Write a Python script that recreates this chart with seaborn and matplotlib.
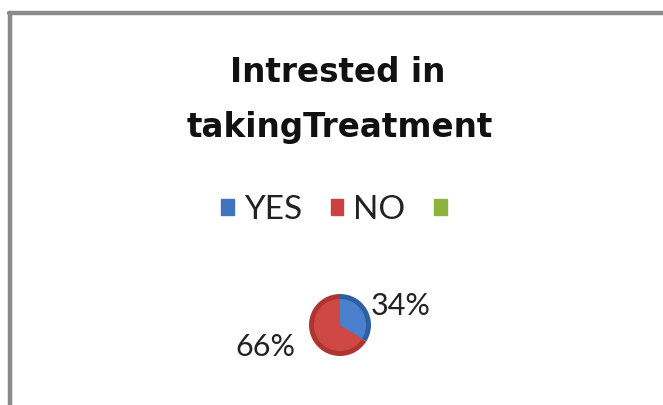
import matplotlib
matplotlib.use("Agg")
import matplotlib.pyplot as plt
import seaborn as sns
from matplotlib.lines import Line2D
from matplotlib.patches import Patch

categories = ["YES", "NO", ""]
values = [34, 66, 0]
pct_labels = ["34%", "66%"]
title_lines = ["Intrested in", "takingTreatment"]
colors = ["#3f73bd", "#c9423f", "#8db33f"]

sns.set_theme(style="white")
plt.rcParams["font.family"] = ["Lato", "DejaVu Sans"]

W, H = 663, 405
fig = plt.figure(figsize=(W / 100, H / 100), dpi=100)
fig.patch.set_facecolor("white")

# frame (top and left grey border)
fig.add_artist(Line2D([9 / W, 1], [1 - 13 / H, 1 - 13 / H], color="#8a8a8a", lw=3.2, transform=fig.transFigure))
fig.add_artist(Line2D([10 / W, 10 / W], [0, 1 - 13 / H], color="#8a8a8a", lw=3.2, transform=fig.transFigure))

# title
fig.text(338 / W, 1 - 72 / H, title_lines[0], ha="center", va="center",
         fontsize=23.5, fontweight="bold", family=["DejaVu Sans"], color="#111111")
fig.text(340 / W, 1 - 127 / H, title_lines[1], ha="center", va="center",
         fontsize=23.5, fontweight="bold", family=["DejaVu Sans"], color="#111111")

# pie
cx, cy, r = 340, 325, 31
ax = fig.add_axes([(cx - r) / W, 1 - (cy + r) / H, 2 * r / W, 2 * r / H])
ax.pie(values[:2], colors=["#2f5fa3", "#b03532"], startangle=90, counterclock=False,
       radius=1.0, wedgeprops=dict(linewidth=0))
# lighter inner face for a bevelled look
light = ["#4a80cc", "#d04845"]
ax.pie(values[:2], colors=light, startangle=90, counterclock=False,
       radius=0.84, wedgeprops=dict(linewidth=0))
ax.set_xlim(-1, 1)
ax.set_ylim(-1, 1)
ax.set_aspect("equal")
ax.axis("off")

# percentage labels
fig.text(401 / W, 1 - 306 / H, pct_labels[0], ha="center", va="center", fontsize=22, color="#222222")
fig.text(265 / W, 1 - 347 / H, pct_labels[1], ha="center", va="center", fontsize=22, color="#222222")

# legend
handles = [Patch(facecolor=c, edgecolor=c) for c in colors]
leg = fig.legend(handles, categories, loc="center", bbox_to_anchor=(339 / W, 1 - 210 / H),
                 ncol=3, frameon=False, fontsize=24, handlelength=0.38, handleheight=0.36,
                 handletextpad=0.3, columnspacing=0.85)
for t in leg.get_texts():
    t.set_color("#222222")

fig.savefig("out.png", dpi=100, facecolor="white")
